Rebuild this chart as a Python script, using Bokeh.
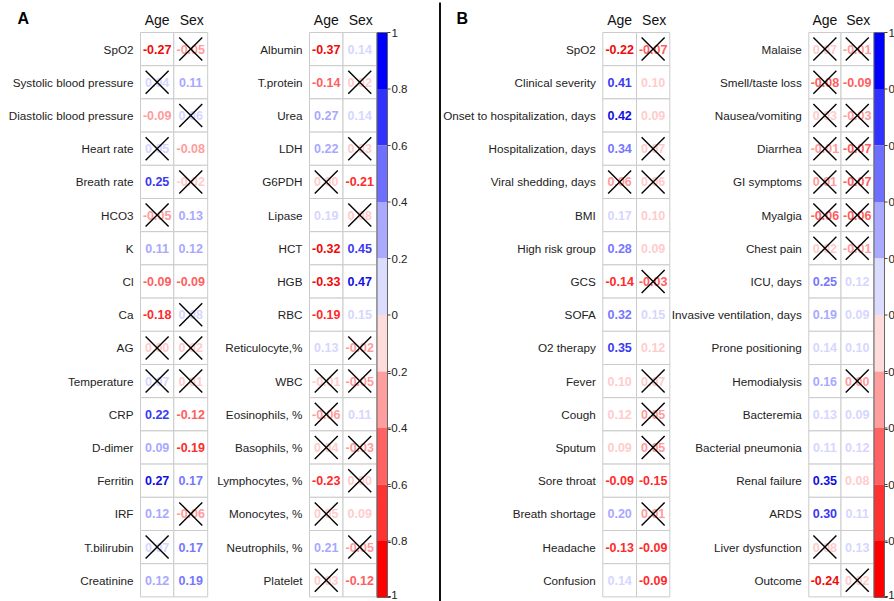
from bokeh.plotting import figure
from bokeh.models import Range1d, ColumnDataSource
from bokeh.core.properties import value
from bokeh.embed import file_html
from bokeh.resources import INLINE

# ---------------- data ----------------
col_names = ["Age", "Sex"]

A_left_rows = ["SpO2", "Systolic blood pressure", "Diastolic blood pressure", "Heart rate",
               "Breath rate", "HCO3", "K", "Cl", "Ca", "AG", "Temperature", "CRP", "D-dimer",
               "Ferritin", "IRF", "T.bilirubin", "Creatinine"]
A_left_age = [-0.27, 0.04, -0.09, 0.05, 0.25, -0.05, 0.11, -0.09, -0.18, 0.00, 0.07, 0.22, 0.09, 0.27, 0.12, 0.07, 0.12]
A_left_age_tone = [-5, 1, -2, 1, 4, -2, 2, -3, -4, -1, 1, 4, 2, 5, 2, 1, 2]
A_left_age_x = [0, 1, 0, 1, 0, 1, 0, 0, 0, 1, 1, 0, 0, 0, 0, 1, 0]
A_left_sex = [-0.05, 0.11, 0.06, -0.08, -0.02, 0.13, 0.12, -0.09, 0.08, 0.02, 0.01, -0.12, -0.19, 0.17, -0.06, 0.17, 0.19]
A_left_sex_tone = [-2, 2, 1, -2, -1, 2, 2, -3, 1, -1, -1, -3, -4, 3, -2, 3, 3]
A_left_sex_x = [1, 0, 1, 0, 1, 0, 0, 0, 1, 1, 1, 0, 0, 0, 1, 0, 0]

A_right_rows = ["Albumin", "T.protein", "Urea", "LDH", "G6PDH", "Lipase", "HCT", "HGB", "RBC",
                "Reticulocyte,%", "WBC", "Eosinophils, %", "Basophils, %", "Lymphocytes, %",
                "Monocytes, %", "Neutrophils, %", "Platelet"]
A_right_age = [-0.37, -0.14, 0.27, 0.22, 0.00, 0.19, -0.32, -0.33, -0.19, 0.13, -0.01, -0.06, 0.04, -0.23, 0.05, 0.21, 0.03]
A_right_age_tone = [-5, -3, 2, 2, -1, 1, -5, -5, -4, 1, -1, -2, -1, -4, -1, 2, -1]
A_right_age_x = [0, 0, 0, 0, 1, 0, 0, 0, 0, 0, 1, 1, 1, 0, 1, 0, 1]
A_right_sex = [0.14, 0.02, 0.14, 0.03, -0.21, 0.08, 0.45, 0.47, 0.15, -0.02, -0.05, 0.11, -0.03, 0.00, 0.09, -0.05, -0.12]
A_right_sex_tone = [1, -1, 1, -1, -4, -1, 4, 5, 1, -2, -2, 1, -2, -1, -1, -2, -3]
A_right_sex_x = [0, 1, 0, 1, 0, 1, 0, 0, 0, 1, 1, 0, 1, 1, 0, 1, 0]

B_left_rows = ["SpO2", "Clinical severity", "Onset to hospitalization, days", "Hospitalization, days",
               "Viral shedding, days", "BMI", "High risk group", "GCS", "SOFA", "O2 therapy", "Fever",
               "Cough", "Sputum", "Sore throat", "Breath shortage", "Headache", "Confusion"]
B_left_age = [-0.22, 0.41, 0.42, 0.34, 0.06, 0.17, 0.28, -0.14, 0.32, 0.35, 0.10, 0.12, 0.09, -0.09, 0.20, -0.13, 0.14]
B_left_age_tone = [-5, 4, 5, 3, -2, 1, 3, -4, 3, 4, -1, -1, -1, -4, 2, -4, 1]
B_left_age_x = [0, 0, 0, 0, 1, 0, 0, 0, 0, 0, 0, 0, 0, 0, 0, 0, 0]
B_left_sex = [-0.07, 0.10, 0.09, 0.07, 0.06, 0.10, 0.09, -0.03, 0.15, 0.12, 0.07, 0.05, 0.05, -0.15, 0.01, -0.09, -0.09]
B_left_sex_tone = [-3, -1, -1, -1, -1, -1, -1, -3, 1, -1, -1, -2, -2, -4, -2, -4, -4]
B_left_sex_x = [1, 0, 0, 1, 1, 0, 0, 1, 0, 0, 1, 1, 1, 0, 1, 0, 0]

B_right_rows = ["Malaise", "Smell/taste loss", "Nausea/vomiting", "Diarrhea", "GI symptoms", "Myalgia",
                "Chest pain", "ICU, days", "Invasive ventilation, days", "Prone positioning",
                "Hemodialysis", "Bacteremia", "Bacterial pneumonia", "Renal failure", "ARDS",
                "Liver dysfunction", "Outcome"]
B_right_age = [0.07, -0.08, 0.03, -0.01, 0.01, -0.06, 0.02, 0.25, 0.19, 0.14, 0.16, 0.13, 0.11, 0.35, 0.30, 0.08, -0.24]
B_right_age_tone = [-1, -3, -1, -2, -2, -3, -1, 3, 2, 1, 2, 1, 1, 5, 4, -1, -5]
B_right_age_x = [1, 1, 1, 1, 1, 1, 1, 0, 0, 0, 0, 0, 0, 0, 0, 1, 0]
B_right_sex = [-0.01, -0.09, -0.03, -0.07, -0.07, -0.06, -0.01, 0.12, 0.09, 0.10, 0.00, 0.09, 0.12, 0.08, 0.11, 0.13, 0.02]
B_right_sex_tone = [-2, -3, -2, -3, -3, -3, -2, 1, 1, 1, -2, 1, 1, -1, 1, 1, -1]
B_right_sex_x = [1, 0, 1, 1, 1, 1, 1, 0, 0, 0, 1, 0, 0, 0, 0, 0, 1]

cb_breaks = [1, 0.8, 0.6, 0.4, 0.2, 0, -0.2, -0.4, -0.6, -0.8, -1]
cb_labels = ["1", "0.8", "0.6", "0.4", "0.2", "0", "-0.2", "-0.4", "-0.6", "-0.8", "-1"]
cb_colors = ["#0000ff", "#3232ff", "#6e6eff", "#a9a9ff", "#dcdcff",
             "#ffdcdc", "#ff9e9e", "#ff6262", "#ff3232", "#ff0000"]

# ---------------- styles ----------------
BLUE = {1: "#d6d6ff", 2: "#a8a8ff", 3: "#7676ff", 4: "#3a3af0", 5: "#1010e0"}
RED = {1: "#ffcccc", 2: "#ff9c9c", 3: "#ff5e5e", 4: "#ff2a2a", 5: "#ee0a0a"}
FONT = value("Liberation Sans")
TOP = 32.0
ROW_H = 33.2

p = figure(width=894, height=601, x_range=Range1d(0, 894), y_range=Range1d(601, 0),
           output_backend="svg", toolbar_location=None, min_border=0,
           x_axis_location=None, y_axis_location=None, background_fill_color="white")
p.xgrid.visible = False
p.ygrid.visible = False
p.outline_line_color = None

blocks = [
    (A_left_rows, [(A_left_age, A_left_age_tone, A_left_age_x), (A_left_sex, A_left_sex_tone, A_left_sex_x)], [140, 173.3, 207.2]),
    (A_right_rows, [(A_right_age, A_right_age_tone, A_right_age_x), (A_right_sex, A_right_sex_tone, A_right_sex_x)], [309, 342.5, 376]),
    (B_left_rows, [(B_left_age, B_left_age_tone, B_left_age_x), (B_left_sex, B_left_sex_tone, B_left_sex_x)], [602.3, 636, 669.3]),
    (B_right_rows, [(B_right_age, B_right_age_tone, B_right_age_x), (B_right_sex, B_right_sex_tone, B_right_sex_x)], [808.3, 840.5, 873]),
]

for rows, cols, edges in blocks:
    n = len(rows)
    ys = [TOP + (i + 0.5) * ROW_H for i in range(n)]
    # row labels
    p.text(x=[edges[0] - 7] * n, y=ys, text=rows, text_align="right", text_baseline="middle",
           text_font=FONT, text_font_size="11.7px", text_color="#222222")
    for j, (vals, tones, crossed) in enumerate(cols):
        x0, x1 = edges[j], edges[j + 1]
        cx = (x0 + x1) / 2
        w = x1 - x0
        src = ColumnDataSource(dict(
            x=[cx] * n, y=ys,
            txt=[f"{v:.2f}" for v in vals],
            col=[BLUE[t] if t > 0 else RED[-t] for t in tones]))
        p.rect(x=[cx] * n, y=ys, width=w, height=ROW_H, fill_color="white",
               line_color="#cbcbcb", line_width=1)
        p.text(x="x", y="y", text="txt", text_color="col", source=src, text_align="center",
               text_baseline="middle", text_font=FONT, text_font_size="12.5px",
               text_font_style="bold")
        cxs = [cx for c in crossed if c]
        cys = [y for y, c in zip(ys, crossed) if c]
        h = 11.5
        p.segment(x0=[x - h for x in cxs], y0=[y - h for y in cys], x1=[x + h for x in cxs],
                  y1=[y + h for y in cys], line_color="black", line_width=1.4)
        p.segment(x0=[x - h for x in cxs], y0=[y + h for y in cys], x1=[x + h for x in cxs],
                  y1=[y - h for y in cys], line_color="black", line_width=1.4)
        # column header
        p.text(x=[cx + (1 if j == 1 else 0)], y=[19], text=[col_names[j]], text_align="center",
               text_baseline="middle", text_font=FONT, text_font_size="14px", text_color="#111111")

# colour bars
CB_TOP, CB_BOT = 32.0, 597.0
def cb_y(v):
    return CB_TOP + (1 - v) / 2 * (CB_BOT - CB_TOP)

for bx0, bx1 in [(376.5, 387), (873.5, 884)]:
    tops = [cb_y(v) for v in cb_breaks[:-1]]
    bots = [cb_y(v) for v in cb_breaks[1:]]
    p.quad(left=[bx0] * len(tops), right=[bx1] * len(tops), top=tops, bottom=bots,
           fill_color=cb_colors, line_color=None)
    p.quad(left=[bx0], right=[bx1], top=[CB_TOP], bottom=[CB_BOT], fill_color=None,
           line_color="#666666", line_width=1)
    ty = [cb_y(v) for v in cb_breaks]
    p.segment(x0=[bx1] * len(ty), y0=ty, x1=[bx1 + 3] * len(ty), y1=ty, line_color="#444444", line_width=1)
    ly = [min(y, 594.0) for y in ty]
    p.text(x=[bx1 + (0 if l.startswith("-") else 4) for l in cb_labels], y=ly, text=cb_labels,
           text_align="left", text_baseline="middle", text_font=FONT, text_font_size="11.5px",
           text_color="#222222")

# panel letters and divider
p.text(x=[17, 456], y=[18, 18], text=["A", "B"], text_align="left", text_baseline="middle",
       text_font=FONT, text_font_size="16px", text_font_style="bold", text_color="black")
p.segment(x0=[439.5], y0=[2], x1=[439.5], y1=[601], line_color="#111111", line_width=2)

open("out.html", "w").write(file_html(p, INLINE))
